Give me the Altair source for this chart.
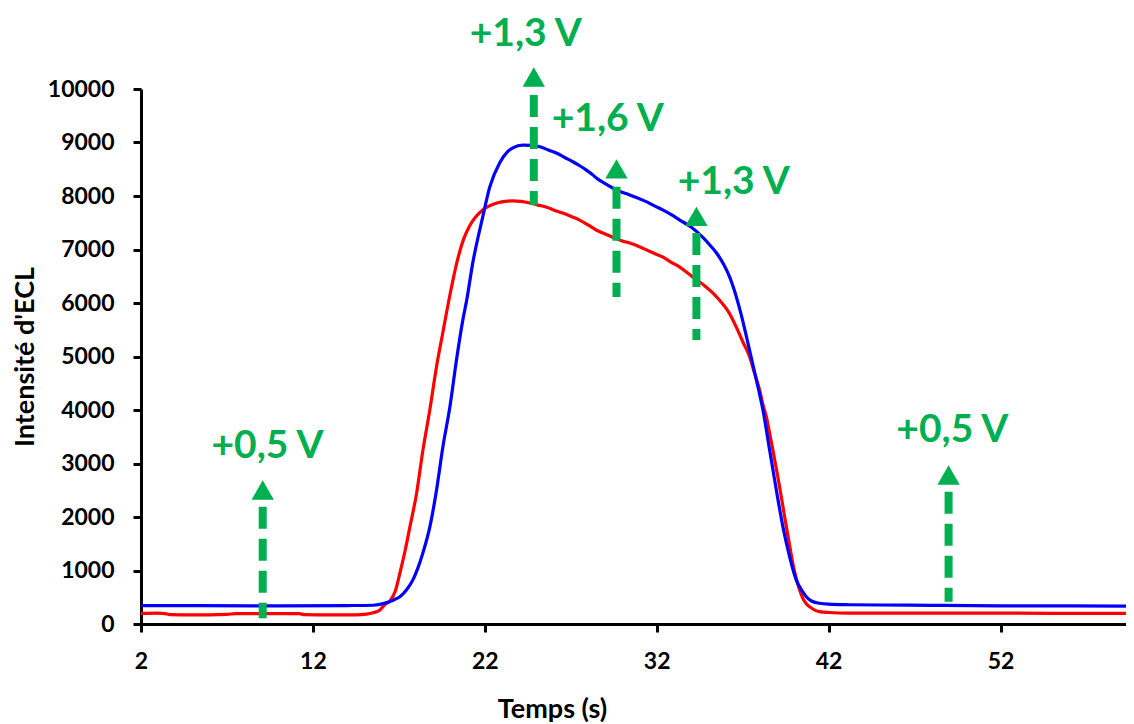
import altair as alt
import pandas as pd

# ---------------- data ----------------
red_t = [2.0, 3.0, 3.4, 3.7, 5.0, 7.0, 7.5, 8.7, 10.0, 11.2, 11.5, 13.0, 14.5, 15.12, 15.5, 15.9, 16.2,
         16.48, 16.8, 17.06, 17.35, 17.64, 18.03, 18.4, 18.8, 19.19, 19.56, 19.97, 20.37, 20.75, 21.13,
         21.5, 21.88, 22.3, 22.7, 23.2, 23.63, 24.1, 24.62, 25.1, 25.6, 26.0, 26.53, 27.0, 27.52, 28.0,
         28.51, 29.0, 29.44, 30.0, 30.43, 31.0, 31.42, 31.9, 32.35, 32.8, 33.34, 33.8, 34.33, 34.8, 35.26,
         35.66, 36.24, 36.63, 37.0, 37.4, 37.7, 37.99, 38.18, 38.38, 38.57, 38.76, 38.96, 39.15, 39.34,
         39.54, 39.73, 39.92, 40.12, 40.31, 40.5, 40.7, 40.9, 41.2, 41.47, 42.0, 43.2, 45.0, 50.0, 55.0, 59.3]
red_v = [200, 205, 195, 175, 170, 180, 195, 195, 195, 195, 175, 170, 172, 185, 210, 262, 370,
         430, 620, 950, 1350, 1810, 2440, 3250, 4000, 4810, 5450, 6150, 6750, 7180, 7450,
         7620, 7740, 7820, 7870, 7900, 7910, 7900, 7870, 7830, 7790, 7740, 7680, 7620, 7550, 7460,
         7360, 7290, 7230, 7160, 7120, 7050, 6990, 6920, 6860, 6770, 6670, 6560, 6430, 6320, 6190,
         6050, 5800, 5550, 5280, 5000, 4680, 4370, 4100, 3870, 3560, 3250, 2900, 2560, 2200,
         1820, 1470, 1130, 850, 640, 480, 380, 320, 260, 230, 215, 205, 205, 205, 200, 200]

blue_t = [2.0, 5.0, 10.0, 14.0, 15.5, 16.2, 16.7, 17.06, 17.45, 17.81, 18.1, 18.4, 18.8, 19.19, 19.56,
          19.97, 20.35, 20.72, 20.95, 21.3, 21.88, 22.29, 22.87, 23.3, 23.63, 24.21, 24.7, 25.2, 25.7,
          26.19, 26.65, 27.12, 27.5, 27.93, 28.3, 28.51, 29.0, 29.44, 29.9, 30.43, 30.9, 31.42, 31.9,
          32.35, 32.85, 33.34, 34.0, 34.67, 35.1, 35.49, 35.9, 36.24, 36.6, 36.9, 37.2, 37.5, 37.8, 38.18,
          38.57, 38.96, 39.34, 39.73, 40.12, 40.5, 40.7, 41.0, 41.47, 42.0, 43.2, 45.0, 48.0, 52.0,
          56.0, 59.3]
blue_v = [345, 342, 340, 345, 350, 390, 450, 510, 640, 820, 1040, 1330, 1810, 2500, 3310,
          4060, 4930, 5680, 6060, 6750, 7610, 8170, 8620, 8820, 8900, 8950, 8945, 8920, 8860,
          8800, 8720, 8640, 8570, 8480, 8390, 8330, 8230, 8150, 8080, 8020, 7960, 7890, 7810,
          7740, 7650, 7550, 7420, 7230, 7080, 6930, 6720, 6490, 6150, 5800, 5400, 4980, 4560, 4000,
          3250, 2500, 1820, 1260, 820, 600, 510, 430, 387, 370, 360, 355, 350, 340,
          338, 335]

# arrows (time, head centre, dashed shaft top, shaft bottom)
arrow_t = [9.08, 24.85, 29.66, 34.31, 48.98]
arrow_head = [2505, 10224, 8508, 7620, 2785]
arrow_top = [2192, 9888, 8174, 7308, 2473]
arrow_bottom = [107, 7832, 6112, 5308, 417]

# potential labels
label_text = ["+0,5 V", "+1,3 V", "+1,6 V", "+1,3 V", "+0,5 V"]
label_t = [9.36, 24.38, 29.15, 36.48, 49.2]
label_v = [3327, 11037, 9445, 8262, 3626]

x_ticks = [2, 12, 22, 32, 42, 52]
y_ticks = list(range(0, 10001, 1000))

GREEN = "#00B050"
FONT = "Lato"

lines = pd.concat([
    pd.DataFrame({"t": red_t, "v": red_v, "s": "red", "o": range(len(red_t))}),
    pd.DataFrame({"t": blue_t, "v": blue_v, "s": "blue", "o": range(len(blue_t))}),
])
arrows = pd.DataFrame({"t": arrow_t, "head": arrow_head, "top": arrow_top, "bottom": arrow_bottom})
labels = pd.DataFrame({"t": label_t, "v": label_v, "txt": label_text})

xscale = alt.Scale(domain=[2, 59.3], nice=False, zero=False)
yscale = alt.Scale(domain=[0, 10000], nice=False)

xaxis = alt.Axis(values=x_ticks, title="Temps (s)", grid=False, labelFlush=False,
                 labelFont=FONT, labelFontWeight="bold", labelFontSize=23, labelColor="black",
                 labelPadding=18, tickColor="black", tickWidth=3, tickSize=8,
                 domainColor="black", domainWidth=3,
                 titleFont=FONT, titleFontWeight="bold", titleFontSize=27, titleColor="black",
                 titlePadding=23, titleX=411, titleAlign="center")
yaxis = alt.Axis(values=y_ticks, title="Intensité d'ECL", grid=False, format="d",
                 labelFont=FONT, labelFontWeight="bold", labelFontSize=23, labelColor="black",
                 labelPadding=19, tickColor="black", tickWidth=3, tickSize=8,
                 domainColor="black", domainWidth=3,
                 titleFont=FONT, titleFontWeight="bold", titleFontSize=27, titleColor="black",
                 titlePadding=8)

line_layer = alt.Chart(lines).mark_line(strokeWidth=3.2, interpolate="monotone").encode(
    x=alt.X("t:Q", scale=xscale, axis=xaxis),
    y=alt.Y("v:Q", scale=yscale, axis=yaxis),
    color=alt.Color("s:N", scale=alt.Scale(domain=["red", "blue"], range=["#FF0000", "#0000FF"]),
                    legend=None),
    order="o:Q",
    detail="s:N",
)

shaft_layer = alt.Chart(arrows).mark_rule(color=GREEN, strokeWidth=8, strokeDash=[22, 10]).encode(
    x=alt.X("t:Q", scale=xscale),
    y=alt.Y("top:Q", scale=yscale),
    y2="bottom:Q",
)

head_layer = alt.Chart(arrows).mark_point(shape="triangle-up", filled=True, size=500,
                                          color=GREEN, opacity=1).encode(
    x=alt.X("t:Q", scale=xscale),
    y=alt.Y("head:Q", scale=yscale),
)

text_layer = alt.Chart(labels).mark_text(font=FONT, fontWeight="bold", fontSize=39, color=GREEN,
                                         align="center", baseline="middle").encode(
    x=alt.X("t:Q", scale=xscale),
    y=alt.Y("v:Q", scale=yscale),
    text="txt:N",
)

chart = alt.layer(line_layer, shaft_layer, head_layer, text_layer).properties(
    width=985, height=535,
    autosize=alt.AutoSizeParams(type="none"),
    padding={"left": 133, "top": 81, "right": 0, "bottom": 100},
    background="white",
).configure_view(stroke=None)

chart.save("out.html", embed_options={"renderer": "svg", "actions": False})
